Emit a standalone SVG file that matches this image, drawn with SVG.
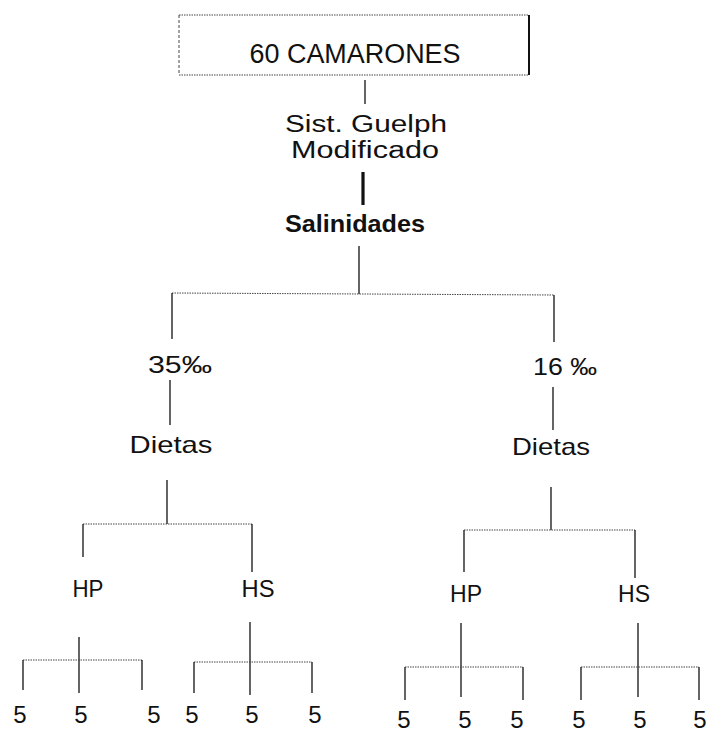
<svg xmlns="http://www.w3.org/2000/svg" width="707" height="736" viewBox="0 0 707 736">
<style>
text{font-family:"Liberation Sans",Arial,sans-serif;fill:#111;text-anchor:middle}
.t{font-size:24px}
.b{font-weight:bold}
.h{stroke:#444;stroke-width:1;stroke-dasharray:1.5 1;fill:none}
.v{stroke:#111;stroke-width:1.3;fill:none}
.k{stroke:#111;stroke-width:3.2;fill:none}
</style>
<rect width="707" height="736" fill="#fff"/>
<g id="connectors">
<line class="v" x1="365" y1="80" x2="365" y2="104"/>
<line class="k" x1="363" y1="172" x2="363" y2="205"/>
<line class="v" x1="359" y1="246" x2="359" y2="294"/>
<line class="h" x1="172" y1="293" x2="554" y2="295"/>
<line class="v" x1="172" y1="293" x2="172" y2="339"/>
<line class="v" x1="554" y1="295" x2="554" y2="342"/>
<line class="v" x1="170" y1="380" x2="170" y2="425"/>
<line class="v" x1="553" y1="387" x2="553" y2="430"/>
<line class="v" x1="167" y1="480" x2="167" y2="524"/>
<line class="h" x1="83" y1="524" x2="252" y2="524"/>
<line class="v" x1="83" y1="524" x2="83" y2="557"/>
<line class="v" x1="252" y1="524" x2="252" y2="572"/>
<line class="v" x1="551" y1="487" x2="551" y2="530"/>
<line class="h" x1="464" y1="530" x2="635" y2="530"/>
<line class="v" x1="464" y1="530" x2="464" y2="572"/>
<line class="v" x1="635" y1="530" x2="635" y2="578"/>
<line class="v" x1="79" y1="637" x2="79" y2="693"/>
<line class="h" x1="23" y1="660" x2="142" y2="660"/>
<line class="v" x1="23" y1="660" x2="23" y2="690"/>
<line class="v" x1="142" y1="660" x2="142" y2="690"/>
<line class="v" x1="250" y1="622" x2="250" y2="695"/>
<line class="h" x1="194" y1="662" x2="312" y2="662"/>
<line class="v" x1="194" y1="662" x2="194" y2="693"/>
<line class="v" x1="312" y1="662" x2="312" y2="693"/>
<line class="v" x1="461" y1="623" x2="461" y2="697"/>
<line class="h" x1="405" y1="667" x2="523" y2="667"/>
<line class="v" x1="405" y1="667" x2="405" y2="700"/>
<line class="v" x1="523" y1="667" x2="523" y2="700"/>
<line class="v" x1="638" y1="623" x2="638" y2="697"/>
<line class="h" x1="581" y1="667" x2="699" y2="667"/>
<line class="v" x1="581" y1="667" x2="581" y2="700"/>
<line class="v" x1="699" y1="667" x2="699" y2="700"/>
</g>
<g id="n-camarones">
<line class="h" x1="179" y1="15" x2="529" y2="15"/>
<line class="h" x1="179" y1="75" x2="529" y2="75"/>
<line stroke="#444" stroke-width="1" stroke-dasharray="3 2" x1="179" y1="15" x2="179" y2="75"/>
<line stroke="#111" stroke-width="2" x1="529" y1="15" x2="529" y2="75"/>
<text x="355" y="63" style="font-size:27px" textLength="211" lengthAdjust="spacingAndGlyphs">60 CAMARONES</text>
</g>
<g id="n-guelph">
<text x="366" y="132" style="font-size:23px" textLength="162" lengthAdjust="spacingAndGlyphs">Sist. Guelph</text>
<text x="365" y="158" style="font-size:23px" textLength="148" lengthAdjust="spacingAndGlyphs">Modificado</text>
</g>
<g id="n-salinidades">
<text class="t b" x="355" y="232" textLength="140" lengthAdjust="spacingAndGlyphs">Salinidades</text>
</g>
<g id="n-35"><text class="t" x="180" y="373" textLength="64" lengthAdjust="spacingAndGlyphs">35‰</text></g>
<g id="n-16"><text class="t" x="565" y="375" textLength="64" lengthAdjust="spacingAndGlyphs">16 ‰</text></g>
<g id="n-dietas-l"><text class="t" x="171" y="453" textLength="83" lengthAdjust="spacingAndGlyphs">Dietas</text></g>
<g id="n-dietas-r"><text class="t" x="551" y="455" textLength="78" lengthAdjust="spacingAndGlyphs">Dietas</text></g>
<g id="n-hp-l"><text class="t" x="88" y="597" textLength="31" lengthAdjust="spacingAndGlyphs">HP</text></g>
<g id="n-hs-l"><text class="t" x="258" y="597" textLength="33" lengthAdjust="spacingAndGlyphs">HS</text></g>
<g id="n-hp-r"><text class="t" x="466" y="602" textLength="32" lengthAdjust="spacingAndGlyphs">HP</text></g>
<g id="n-hs-r"><text class="t" x="634" y="602" textLength="32" lengthAdjust="spacingAndGlyphs">HS</text></g>
<g id="n-leaves-l">
<text class="t" x="20" y="723">5</text>
<text class="t" x="81" y="723">5</text>
<text class="t" x="154" y="723">5</text>
<text class="t" x="192" y="723">5</text>
<text class="t" x="252" y="723">5</text>
<text class="t" x="315" y="723">5</text>
</g>
<g id="n-leaves-r">
<text class="t" x="404" y="728">5</text>
<text class="t" x="465" y="728">5</text>
<text class="t" x="517" y="728">5</text>
<text class="t" x="579" y="728">5</text>
<text class="t" x="640" y="728">5</text>
<text class="t" x="700" y="728">5</text>
</g>
</svg>
